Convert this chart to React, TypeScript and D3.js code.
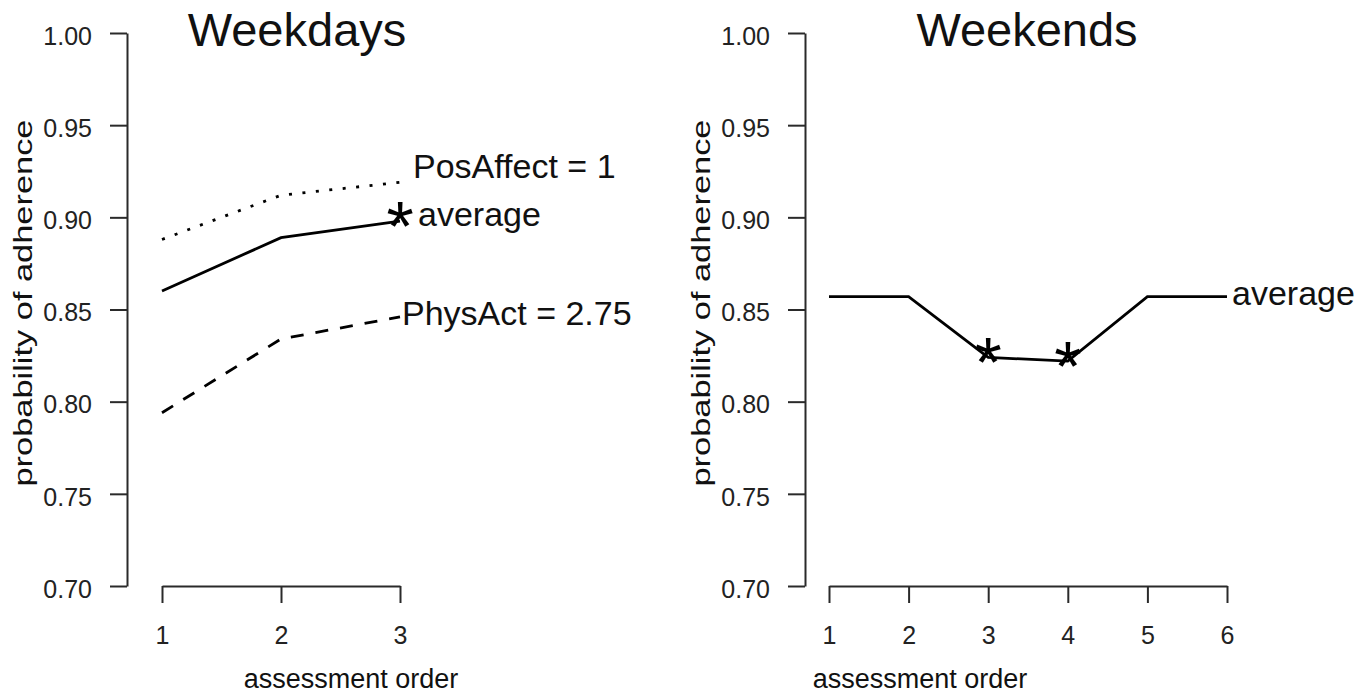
import { useRef, useEffect } from 'react';
import * as d3 from 'd3';

// values
const weekdayOrder = [1, 2, 3];
const weekdayAverage = [0.86, 0.889, 0.898];
const weekdayPosAffect = [0.888, 0.912, 0.919];
const weekdayPhysAct = [0.794, 0.834, 0.846];
const weekdayStars = [3];

const weekendOrder = [1, 2, 3, 4, 5, 6];
const weekendAverage = [0.857, 0.857, 0.824, 0.822, 0.857, 0.857];
const weekendStars = [3, 4];

const yTicks = [0.7, 0.75, 0.8, 0.85, 0.9, 0.95, 1.0];

const FONT = '"Liberation Sans", Arial, sans-serif';

function App() {
  const svgRef = useRef<SVGSVGElement>(null);

  useEffect(() => {
    const svg = d3.select(svgRef.current);
    svg.selectAll('*').remove();

    const y = d3.scaleLinear().domain([0.7, 1.0]).range([586, 33]);

    const panels = [
      {
        title: 'Weekdays',
        titleX: 297,
        xLabelX: 351,
        axisX: 127,
        x: d3.scaleLinear().domain([1, 3]).range([162, 400]),
        order: weekdayOrder,
        stars: weekdayStars,
        series: [
          { values: weekdayPosAffect, dash: '3,10.5', label: 'PosAffect = 1', dx: 13, dy: -4 },
          { values: weekdayAverage, dash: null, label: 'average', dx: 18, dy: 5 },
          { values: weekdayPhysAct, dash: '13,12', label: 'PhysAct = 2.75', dx: 2, dy: 8 },
        ],
      },
      {
        title: 'Weekends',
        titleX: 1027,
        xLabelX: 920,
        axisX: 805,
        x: d3.scaleLinear().domain([1, 6]).range([829, 1227]),
        order: weekendOrder,
        stars: weekendStars,
        series: [{ values: weekendAverage, dash: null, label: 'average', dx: 5, dy: 8 }],
      },
    ];

    panels.forEach(p => {
      const g = svg.append('g');

      // y axis
      const yAxis = g
        .append('g')
        .attr('transform', `translate(${p.axisX},0)`)
        .call(
          d3
            .axisLeft(y)
            .tickValues(yTicks)
            .tickFormat(d3.format('.2f'))
            .tickSize(17)
            .tickSizeOuter(0)
            .tickPadding(18)
        );
      yAxis.select('.domain').attr('stroke', '#2a2a2a').attr('stroke-width', 2);
      yAxis.selectAll('.tick line').attr('stroke', '#2a2a2a').attr('stroke-width', 2);
      yAxis
        .selectAll('.tick text')
        .attr('dy', '0.45em')
        .style('font-family', FONT)
        .style('font-size', '25px')
        .attr('fill', '#222');

      // x axis
      const xAxis = g
        .append('g')
        .attr('transform', 'translate(0,586)')
        .call(
          d3
            .axisBottom(p.x)
            .tickValues(p.order)
            .tickFormat(d3.format('d'))
            .tickSize(17)
            .tickSizeOuter(0)
            .tickPadding(23)
        );
      xAxis.select('.domain').attr('stroke', '#2a2a2a').attr('stroke-width', 2);
      xAxis.selectAll('.tick line').attr('stroke', '#2a2a2a').attr('stroke-width', 2);
      xAxis
        .selectAll('.tick text')
        .style('font-family', FONT)
        .style('font-size', '25px')
        .attr('fill', '#222');

      // axis titles
      g.append('text')
        .text('assessment order')
        .attr('x', p.xLabelX)
        .attr('y', 688)
        .attr('text-anchor', 'middle')
        .style('font-family', FONT)
        .style('font-size', '27px')
        .attr('fill', '#111');

      g.append('text')
        .text('probability of adherence')
        .attr('transform', `translate(${p.axisX - 95},303) rotate(-90)`)
        .attr('text-anchor', 'middle')
        .attr('textLength', 367)
        .attr('lengthAdjust', 'spacingAndGlyphs')
        .style('font-family', FONT)
        .style('font-size', '25px')
        .attr('fill', '#111');

      g.append('text')
        .text(p.title)
        .attr('x', p.titleX)
        .attr('y', 46)
        .attr('text-anchor', 'middle')
        .style('font-family', FONT)
        .style('font-size', '47px')
        .attr('fill', '#111');

      // lines and end labels
      p.series.forEach(s => {
        const pts = p.order.map((o, i) => [p.x(o), y(s.values[i])] as [number, number]);
        g.append('path')
          .attr('d', d3.line()(pts))
          .attr('fill', 'none')
          .attr('stroke', '#000')
          .attr('stroke-width', 2.8)
          .attr('stroke-dasharray', s.dash);

        const last = pts[pts.length - 1];
        g.append('text')
          .text(s.label)
          .attr('x', last[0] + s.dx)
          .attr('y', last[1] + s.dy)
          .style('font-family', FONT)
          .style('font-size', '34px')
          .attr('fill', '#111');
      });

      // significance stars on the average line
      const avg = p.series.find(s => s.label === 'average')!;
      g.selectAll('.star')
        .data(p.stars)
        .enter()
        .append('text')
        .attr('class', 'star')
        .text('*')
        .attr('x', d => p.x(d))
        .attr('y', d => y(avg.values[p.order.indexOf(d)]) + 30)
        .attr('text-anchor', 'middle')
        .style('font-family', FONT)
        .style('font-size', '70px')
        .attr('fill', '#000');
    });
  }, []);

  return (
    <svg
      ref={svgRef}
      width={1372}
      height={696}
      style={{ position: 'absolute', left: 0, top: 0, background: '#fff' }}
    />
  );
}

export default App;
